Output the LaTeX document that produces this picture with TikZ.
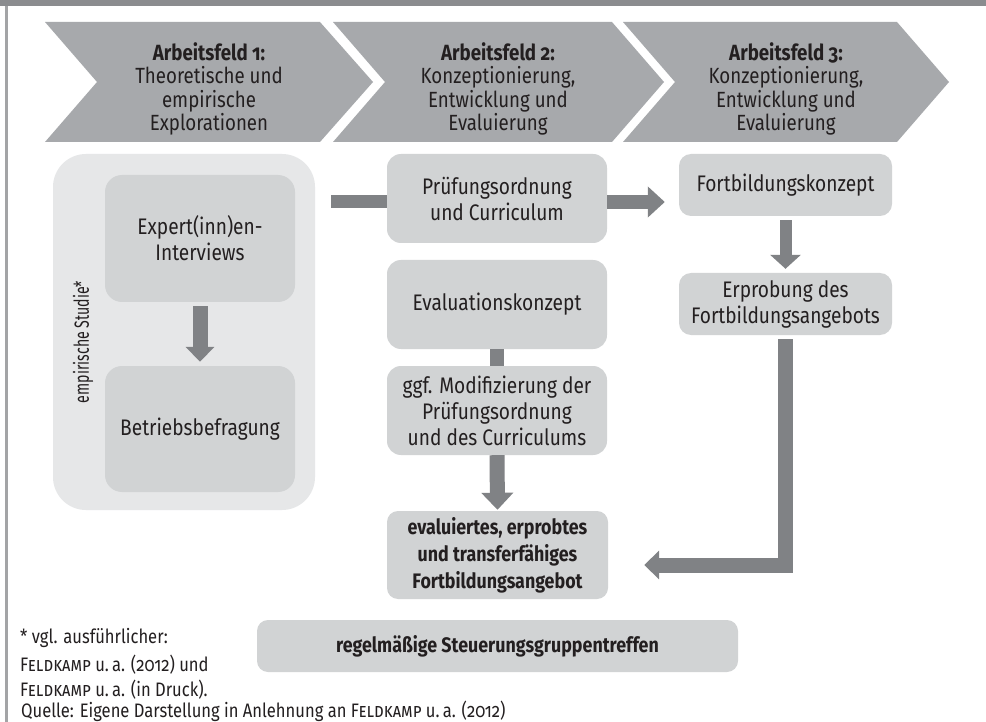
\documentclass[tikz,border=0pt]{standalone}
\usepackage{fontspec}
\usepackage{graphicx}
\setmainfont{Fira Sans}[FakeStretch=0.85, Numbers=OldStyle]
\newfontfamily\plainsans{Fira Sans}[Numbers=OldStyle]
\usetikzlibrary{arrows.meta,calc}

\definecolor{barcol}{HTML}{8B8C8F}
\definecolor{framecol}{HTML}{A3A4A6}
\definecolor{chevcol}{HTML}{A7A9AC}
\definecolor{outercol}{HTML}{E6E7E8}
\definecolor{boxcol}{HTML}{D1D3D4}
\definecolor{arrowcol}{HTML}{808285}
\definecolor{textcol}{HTML}{231F20}

\tikzset{
  every node/.style={text=textcol, inner sep=0pt},
  chevtext/.style={align=center, font=\fontsize{22}{23.5}\selectfont},
  stepbox/.style={fill=boxcol, rounded corners=14pt, align=center,
    font=\fontsize{22.5}{26}\selectfont},
  boldbox/.style={stepbox, rounded corners=11pt, font=\bfseries\fontsize{21}{27}\selectfont},
  footline/.style={anchor=base west, font=\fontsize{19.5}{24}\selectfont},
  shaft/.style={draw=arrowcol, line width=15pt},
}

\begin{document}
\begin{tikzpicture}[x=1pt, y=-1pt]
\useasboundingbox (0,0) rectangle (986,722);
\fill[white] (0,0) rectangle (986,722);

% frame: top bar and left rule
\fill[barcol] (0,0) rectangle (986,6.5);
\fill[framecol] (5,6.5) rectangle (7.5,722);

% phase chevrons
\fill[chevcol] (45,22) -- (320,22) -- (373,82) -- (320,142) -- (45,142) -- (97,82) -- cycle;
\fill[chevcol] (333,22) -- (612,22) -- (664,82) -- (612,142) -- (333,142) -- (385,82) -- cycle;
\fill[chevcol] (623,22) -- (897,22) -- (949,82) -- (897,142) -- (623,142) -- (675,82) -- cycle;

\node[chevtext] (af1) at (209,89) {\textbf{Arbeitsfeld 1:}\\Theoretische und\\empirische\\Explorationen};
\node[chevtext] (af2) at (498,89) {\textbf{Arbeitsfeld 2:}\\Konzeptionierung,\\Entwicklung und\\Evaluierung};
\node[chevtext] (af3) at (786,89) {\textbf{Arbeitsfeld 3:}\\Konzeptionierung,\\Entwicklung und\\Evaluierung};

% empirical study group
\node[fill=outercol, rounded corners=33pt, minimum width=262pt, minimum height=356pt] (study) at (184,332) {};
\node[rotate=90, font=\plainsans\fontsize{20.5}{22}\selectfont] (studylabel) at (83,342) {\scalebox{0.69}[1]{empirische Studie*}};
\node[stepbox, rounded corners=17pt, minimum width=190pt, minimum height=127pt] (expert) at (200,238.5) {Expert(inn)en-\\Interviews};
\node[stepbox, rounded corners=17pt, minimum width=190pt, minimum height=126pt] (betrieb) at (200,429) {Betriebsbefragung};

% field 2
\node[stepbox, minimum width=220pt, minimum height=89pt] (prue) at (497,198.5) {Prüfungsordnung\\und Curriculum};
\node[stepbox, minimum width=220pt, minimum height=89pt] (eval) at (497,304.5) {Evaluationskonzept};
\node[stepbox, minimum width=220pt, minimum height=89pt] (ggf) at (497,410.5) {ggf. Modifizierung der\\Prüfungsordnung\\und des Curriculums};
\node[boldbox, minimum width=221pt, minimum height=88pt] (final) at (497.5,555) {evaluiertes, erprobtes\\und transferfähiges\\Fortbildungsangebot};
\node[boldbox, minimum width=481pt, minimum height=52pt] (steuer) at (497.5,646) {regelmäßige Steuerungsgruppentreffen};

% field 3
\node[stepbox, rounded corners=12pt, minimum width=213pt, minimum height=62pt] (fort) at (785.5,185) {Fortbildungskonzept};
\node[stepbox, rounded corners=12pt, minimum width=213pt, minimum height=62pt] (erprob) at (785.5,304) {Erprobung des\\Fortbildungsangebots};

% connectors
\draw[shaft, -{Triangle[width=28pt,length=15pt]}] ($(expert.south)+(0,4)$) -- ($(betrieb.north)+(0,-4)$);
\draw[shaft, line width=13pt] ($(study.east |- prue.west)+(16,3)$) -- ($(prue.west)+(0,3)$);
\draw[shaft, line width=14pt, -{Triangle[width=30pt,length=17pt]}] ($(prue.east)+(0,3.5)$) -- ($(fort.west |- prue.east)+(-14,3.5)$);
\draw[shaft, line width=12pt, -{Triangle[width=30pt,length=14pt]}] ($(fort.south)+(0,4)$) -- ($(erprob.north)+(0,-4)$);
\draw[shaft, line width=14pt] (eval.south) -- (ggf.north);
\draw[shaft, -{Triangle[width=31pt,length=17pt]}] (ggf.south) -- ($(final.north)+(0,-1)$);
\draw[shaft, line join=miter, -{Triangle[width=28pt,length=15pt]}] ($(erprob.south)+(0,4)$) |- ($(final.east)+(36,10)$);

% notes
\node[footline] (fn1) at (20,643) {* vgl. ausführlicher:};
\node[footline] (fn2) at (20,671) {\textsc{Feldkamp} u.\,a. (2012) und};
\node[footline] (fn3) at (20,696) {\textsc{Feldkamp} u.\,a. (in Druck).};
\node[footline] (src) at (21,717) {Quelle: Eigene Darstellung in Anlehnung an \textsc{Feldkamp} u.\,a. (2012)};
\end{tikzpicture}
\end{document}
